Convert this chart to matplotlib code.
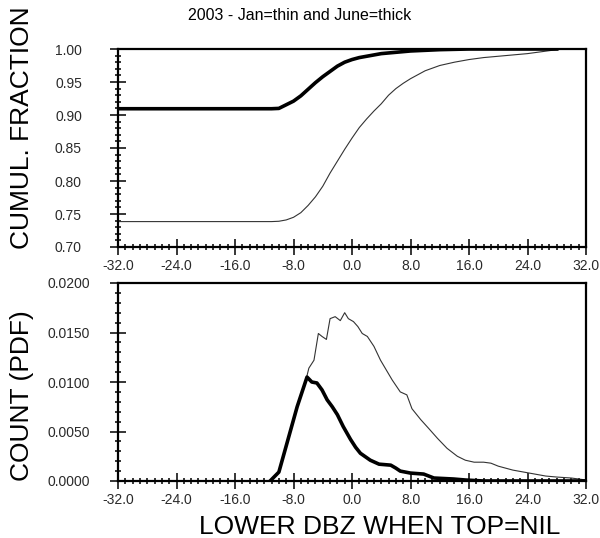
import matplotlib
matplotlib.use("Agg")
import matplotlib.pyplot as plt
from matplotlib.ticker import MultipleLocator, FormatStrFormatter

plt.rcParams['font.family'] = ['Liberation Sans', 'DejaVu Sans']

# ---- data ----
cdf_jan_x = [-32, -11, -10, -9, -8, -7, -6, -5, -4, -3, -2, -1, 0, 1, 2, 3, 4, 5, 6, 7, 8,
             10, 12, 14, 16, 18, 20, 22, 24, 26, 28]
cdf_jan_y = [0.7385, 0.7385, 0.739, 0.741, 0.745, 0.752, 0.763, 0.776, 0.792, 0.812, 0.830,
             0.848, 0.865, 0.881, 0.894, 0.906, 0.917, 0.930, 0.940, 0.948, 0.955,
             0.967, 0.975, 0.980, 0.984, 0.987, 0.989, 0.991, 0.993, 0.996, 0.999]

cdf_jun_x = [-32, -11, -10, -9, -8, -7, -6, -5, -4, -3, -2, -1, 0, 1, 2, 3, 4, 6, 8, 10,
             12, 16, 28]
cdf_jun_y = [0.9095, 0.9095, 0.910, 0.9155, 0.921, 0.929, 0.939, 0.949, 0.958, 0.966, 0.974,
             0.980, 0.984, 0.987, 0.989, 0.991, 0.993, 0.995, 0.997, 0.998, 0.999, 1.0, 1.0]

pdf_jan_x = [-11.2, -10, -9, -8, -7, -6.2, -5.9, -5.2, -4.6, -4.1, -3.5, -3.0, -2.3, -1.6,
             -1.0, -0.5, 0.2, 0.8, 1.4, 2.1, 3.0, 3.9, 4.7, 5.5, 6.6, 7.5, 8.2, 9.4, 10.5,
             11.7, 13.0, 14.4, 15.5, 16.7, 18.0, 19.0, 20.0, 21.0, 22.0, 23.5, 25.0, 26.5,
             28.0, 30.0, 32.0]
pdf_jan_y = [0.0, 0.0009, 0.0036, 0.0062, 0.0087, 0.0105, 0.0114, 0.0122, 0.0149, 0.0146,
             0.0143, 0.0164, 0.0166, 0.0162, 0.0170, 0.0164, 0.0161, 0.0156, 0.0149, 0.0146,
             0.0136, 0.0122, 0.0112, 0.0102, 0.0090, 0.0087, 0.0073, 0.0062, 0.0053, 0.0043,
             0.0033, 0.0025, 0.0021, 0.0019, 0.0019, 0.0018, 0.0015, 0.0013, 0.0011, 0.0009,
             0.0007, 0.0005, 0.0004, 0.0003, 0.0001]

pdf_jun_x = [-11.2, -10, -8.9, -7.5, -6.15, -5.5, -4.8, -4.1, -3.4, -2.7, -2.0, -1.2, -0.2,
             0.5, 1.15, 2.5, 3.7, 5.3, 6.0, 6.6, 8.0, 9.8, 11.2, 13.9, 15.5, 18.0, 32.0]
pdf_jun_y = [0.0, 0.0009, 0.0038, 0.0075, 0.0105, 0.0100, 0.0099, 0.0092, 0.0082, 0.0075,
             0.0067, 0.0055, 0.0042, 0.0034, 0.0028, 0.0021, 0.0017, 0.0016, 0.0013, 0.0010,
             0.0008, 0.0007, 0.0003, 0.0002, 0.0001, 0.0, 0.0]

title = "2003 - Jan=thin and June=thick"
xlabel = "LOWER DBZ WHEN TOP=NIL"
ylabel_top = "CUMUL. FRACTION"
ylabel_bot = "COUNT (PDF)"

W, H = 600, 538
fig = plt.figure(figsize=(W / 100, H / 100), dpi=100)

def ax_rect(x0, y0, x1, y1):
    return [x0 / W, 1 - y1 / H, (x1 - x0) / W, (y1 - y0) / H]

ax1 = fig.add_axes(ax_rect(118, 49, 586, 247))
ax2 = fig.add_axes(ax_rect(118, 283, 586, 481))

thin_kw = dict(color='#333333', lw=0.8)
thick_kw = dict(color='black', lw=2.6, solid_joinstyle='round')

ax1.plot(cdf_jan_x, cdf_jan_y, **thin_kw)
ax1.plot(cdf_jun_x, cdf_jun_y, **thick_kw)
ax2.plot(pdf_jan_x, pdf_jan_y, **thin_kw)
ax2.plot(pdf_jun_x, pdf_jun_y, **thick_kw)

for ax, ylim, ymaj, ymin, fmt, pad in [
        (ax1, (0.70, 1.00), 0.05, 0.01, '%.2f', 20),
        (ax2, (0.0, 0.02), 0.005, 0.001, '%.4f', 14)]:
    ax.set_xlim(-32, 32)
    ax.set_ylim(*ylim)
    ax.xaxis.set_major_locator(MultipleLocator(8))
    ax.xaxis.set_minor_locator(MultipleLocator(1))
    ax.yaxis.set_major_locator(MultipleLocator(ymaj))
    ax.yaxis.set_minor_locator(MultipleLocator(ymin))
    ax.xaxis.set_major_formatter(FormatStrFormatter('%.1f'))
    ax.yaxis.set_major_formatter(FormatStrFormatter(fmt))
    ax.tick_params(which='both', direction='inout', width=1.1, colors='black',
                   labelcolor='#2a2a2a', labelsize=10)
    ax.tick_params(which='major', length=12)
    ax.tick_params(which='minor', length=5)
    ax.tick_params(axis='y', which='major', pad=pad)
    ax.tick_params(axis='x', which='major', pad=3)
    for s in ax.spines.values():
        s.set_linewidth(1.6)

fig.text(300 / W, 1 - 16 / H, title, ha='center', va='center', fontsize=11.5)
fig.text(380 / W, 1 - 527 / H, xlabel, ha='center', va='center', fontsize=19)
fig.text(22 / W, 1 - 128 / H, ylabel_top, ha='center', va='center', rotation=90, fontsize=19)
fig.text(22 / W, 1 - 396 / H, ylabel_bot, ha='center', va='center', rotation=90, fontsize=19)

fig.savefig("out.png", dpi=100)
